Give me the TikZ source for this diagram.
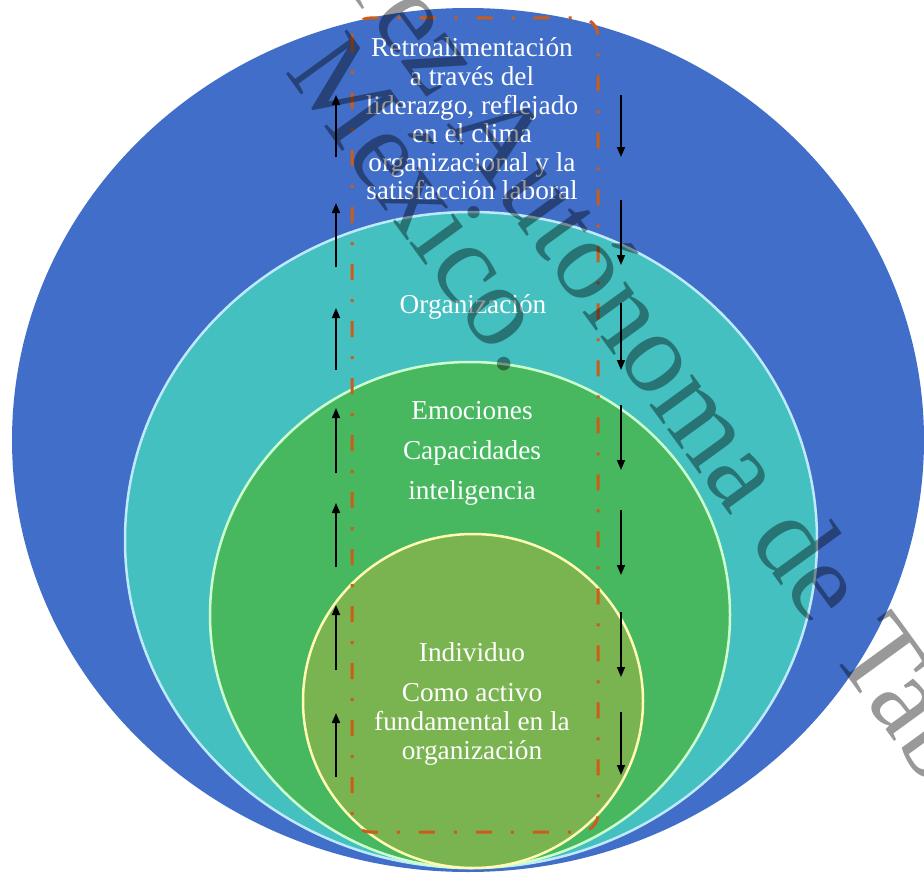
\documentclass[tikz,border=0pt]{standalone}
\usepackage{fontspec}
\setmainfont{Liberation Serif}
\usepackage{xcolor}
\usepackage{tikz}
\usetikzlibrary{arrows.meta}

\definecolor{outerblue}{RGB}{64,110,200}
\definecolor{orgteal}{RGB}{68,192,192}
\definecolor{emogreen}{RGB}{72,184,96}
\definecolor{indlime}{RGB}{122,180,80}
\definecolor{frameorange}{RGB}{205,92,25}

\begin{document}
\begin{tikzpicture}[
    x=1pt, y=-1pt,
    layer/.style   = {line width=2.5pt},
    label/.style   = {text=white, align=center,
                      font=\fontsize{27.3}{28.6}\selectfont},
    frame/.style   = {draw=frameorange, line width=3pt, rounded corners=18pt,
                      dash pattern=on 16pt off 19pt on 3pt off 19pt},
    flow/.style    = {-{Triangle[length=10pt,width=8pt]}, line width=1.6pt},
    wmark/.style   = {text=black!40, rotate=-54, inner sep=0pt,
                      font=\fontsize{115}{130}\selectfont}
]
\useasboundingbox[fill=white] (0,0) rectangle (924,875);

% Circles
\fill[outerblue] (468,440) ellipse [x radius=456, y radius=432];
\draw[layer, draw=cyan!25, fill=orgteal] (471,540) ellipse [x radius=346, y radius=328];
\draw[layer, draw=green!20!white, fill=emogreen] (470,615) ellipse [x radius=260, y radius=253];
\draw[layer, draw=yellow!30!white, fill=indlime] (473,701) ellipse [x radius=170, y radius=167];

% Dashed frame
\draw[frame] (352,18) rectangle (598,832);

% Arrows
\foreach \i/\la/\lb/\ra/\rb in {1/95/157/95/157, 2/203/267/200/265,
    3/308/370/303/370, 4/408/473/405/470, 5/503/567/510/575,
    6/605/670/612/677, 7/713/777/712/775}{
  \coordinate (up\i-tail) at (336,\lb);
  \coordinate (up\i-tip)  at (336,\la);
  \coordinate (dn\i-from) at (621,\ra);
  \coordinate (dn\i-tip)  at (621,\rb);
  \draw[flow] (up\i-tail) -- (up\i-tip);
  \draw[flow] (dn\i-from) -- (dn\i-tip);
}

% Labels
\node[label] (retro) at (472,119) {Retroalimentación\\a través del\\liderazgo, reflejado\\en el clima\\organizacional y la\\satisfacción laboral};
\node[label] (org)   at (473,307) {Organización};
\node[label] (emo)   at (472,453) {Emociones\\[11.4pt]Capacidades\\[11.4pt]inteligencia};
\node[label] (indiv) at (472,704) {Individuo\\[11.4pt]Como activo\\fundamental en la\\organización};

% Watermark
\begin{scope}[blend mode=multiply]
\node[wmark, anchor=base west] (wmline1) at (446,124) {\llap{Universidad Juárez }Autónoma de Tabasco.};
\node[wmark, anchor=base east] (wmline2) at (508,379) {México.};
\end{scope}

\end{tikzpicture}
\end{document}
